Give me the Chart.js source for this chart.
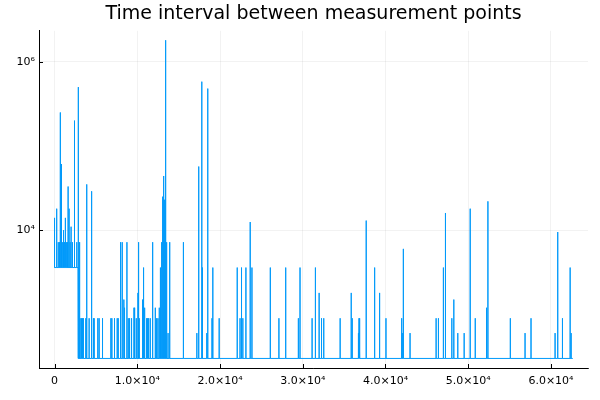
<!DOCTYPE html>
<html>
<head>
<meta charset="utf-8">
<script src="https://cdn.jsdelivr.net/npm/chart.js@4"></script>
<style>
  html, body { margin: 0; padding: 0; background: #fff; }
</style>
</head>
<body>
<canvas id="chart" width="600" height="400"></canvas>
<script>
// baseline level of the series (changes once, near x = 2900)
const baseStart = [0, 2900];
const baseLevel = [3600, 300];
const lastX = 62640;

// the spikes that stick out of the baseline
const spikeX = [
    0, 260, 450, 600, 700, 790, 870, 990, 1050, 1110, 1190, 1310, 1470, 1550, 1640, 1760, 1880, 2000,
    2160, 2360, 2450, 2690, 2850,
    3030, 3090, 3250, 3370, 3490, 3780, 3880, 3900, 4180, 4460, 4500, 4700, 4790, 5230, 5390, 5800,
    6810, 6930, 7250, 7575, 7700, 7980, 8180, 8380, 8460, 8750, 8910, 9070, 9310, 9600, 9680, 9880,
    10080, 10160, 10240, 10640, 10760, 10890, 11130, 11250, 11370, 11570, 11860, 12180, 12340, 12500,
    12660, 12750, 12830, 12950, 13070, 13190, 13310, 13430, 13550, 13720, 13920, 15540, 15600,
    17200, 17430, 17800, 17880, 18400, 18520, 19030, 19130, 19900, 22080, 22420, 22600, 22760, 23130,
    23650, 23860, 26080, 27120, 27940, 29470, 29670, 31130, 31530, 31980, 32270, 32540, 34520, 35860,
    35980, 36700, 36800, 36900, 37670, 38690, 39290, 40060, 41960, 42030, 42160, 42970, 46120, 46400,
    47000, 47250, 48020, 48260, 48740, 49510, 50240, 50850, 52220, 52380, 55090, 56870, 57590, 60500,
    60820, 61390, 62320, 62440
];
const spikeY = [
    14000, 18000, 7200, 7200, 250000, 61000, 11000, 7200, 7200, 10000, 7200, 14000, 7200, 7200, 33000, 18000, 7200, 11000,
    7200, 14000, 200000, 7200, 500000,
    7200, 900, 900, 900, 900, 900, 35000, 900, 900, 29000, 900, 900, 900, 900, 900, 900,
    900, 900, 900, 900, 900, 7200, 7200, 1500, 1200, 7200, 900, 900, 900, 1200, 1200, 900,
    1800, 7200, 900, 1500, 3600, 1200, 900, 900, 900, 900, 7200, 1200, 900, 900,
    1200, 3600, 3600, 7200, 25000, 44000, 23000, 1800000, 7200, 600, 7200, 7200, 7200,
    600, 57000, 580000, 3600, 600, 480000, 900, 3600, 900, 3600, 900, 3600, 900, 3600,
    12500, 3600, 3600, 900, 3600, 900, 3600, 900, 3600, 1800, 900, 900, 900, 1800,
    900, 600, 900, 900, 13000, 3600, 1800, 900, 900, 600, 6000, 600, 900, 900,
    3600, 16000, 900, 1500, 600, 600, 18000, 900, 1200, 22000, 900, 600, 900, 600,
    9500, 900, 3600, 600
];

const xTicks = [0, 10000, 20000, 30000, 40000, 50000, 60000];
const xTickLabels = ["0", "1.0×10⁴", "2.0×10⁴", "3.0×10⁴", "4.0×10⁴", "5.0×10⁴", "6.0×10⁴"];
const yTicks = [1e4, 1e6];
const yTickLabels = ["10⁴", "10⁶"];

function baseAt(x){
    let b = baseLevel[0];
    baseStart.forEach((s, i) => { if (x >= s) b = baseLevel[i]; });
    return b;
}

// build the line: baseline, with each spike going up and straight back down
const points = [{x: 0, y: baseAt(0)}];
let cur = baseAt(0);
spikeX.forEach((sx, i) => {
    const b = baseAt(sx);
    if (b !== cur) {
        const step = baseStart[baseLevel.indexOf(b)];
        points.push({x: step, y: cur}, {x: step + 1, y: b});
        cur = b;
    }
    points.push({x: sx - 1, y: b}, {x: sx, y: spikeY[i]}, {x: sx + 1, y: b});
});
points.push({x: lastX, y: cur});

const font = "'DejaVu Sans', sans-serif";

// small tick marks drawn inside the plot, like the original
const innerTicks = {
    id: "innerTicks",
    afterDraw(chart){
        const c = chart.ctx, a = chart.chartArea;
        const xs = chart.scales.x, ys = chart.scales.y;
        c.save();
        c.strokeStyle = "#000";
        c.lineWidth = 1;
        c.beginPath();
        xTicks.forEach(v => {
            const px = Math.round(xs.getPixelForValue(v)) + 0.5;
            c.moveTo(px, a.bottom);
            c.lineTo(px, a.bottom - 4);
        });
        yTicks.forEach(v => {
            const py = Math.round(ys.getPixelForValue(v)) + 0.5;
            c.moveTo(a.left, py);
            c.lineTo(a.left + 4, py);
        });
        c.stroke();
        c.restore();
    }
};

new Chart(document.getElementById("chart"), {
    type: "line",
    data: {
        datasets: [{
            data: points,
            borderColor: "#009AFA",
            borderWidth: 1,
            pointRadius: 0,
            fill: false,
            tension: 0
        }]
    },
    options: {
        responsive: false,
        animation: false,
        devicePixelRatio: 1,
        layout: { padding: { top: 0, right: 12, bottom: 0, left: 0 } },
        plugins: {
            legend: { display: false },
            tooltip: { enabled: false },
            title: {
                display: true,
                text: "Time interval between measurement points",
                color: "#000",
                fullSize: false,
                font: { family: font, size: 19, weight: "normal" },
                padding: { top: 3, bottom: 5 }
            }
        },
        scales: {
            x: {
                type: "linear",
                min: -1878,
                max: 64478,
                afterBuildTicks: s => { s.ticks = xTicks.map(v => ({value: v})); },
                afterFit: s => { s.height = 32; },
                ticks: {
                    callback: v => xTickLabels[xTicks.indexOf(v)],
                    color: "#000",
                    font: { family: font, size: 11 },
                    padding: 7,
                    maxRotation: 0
                },
                grid: { color: "rgba(0,0,0,0.1)", lineWidth: 0.5, drawTicks: false },
                border: { color: "#000", width: 1 }
            },
            y: {
                type: "logarithmic",
                min: 231,
                max: 2.33e6,
                afterBuildTicks: s => { s.ticks = yTicks.map(v => ({value: v})); },
                afterFit: s => { s.width = 39; },
                ticks: {
                    callback: v => yTickLabels[yTicks.indexOf(v)],
                    color: "#000",
                    font: { family: font, size: 11 },
                    padding: 4
                },
                grid: { color: "rgba(0,0,0,0.1)", lineWidth: 0.5, drawTicks: false },
                border: { color: "#000", width: 1 }
            }
        }
    },
    plugins: [innerTicks]
});
</script>
</body>
</html>
